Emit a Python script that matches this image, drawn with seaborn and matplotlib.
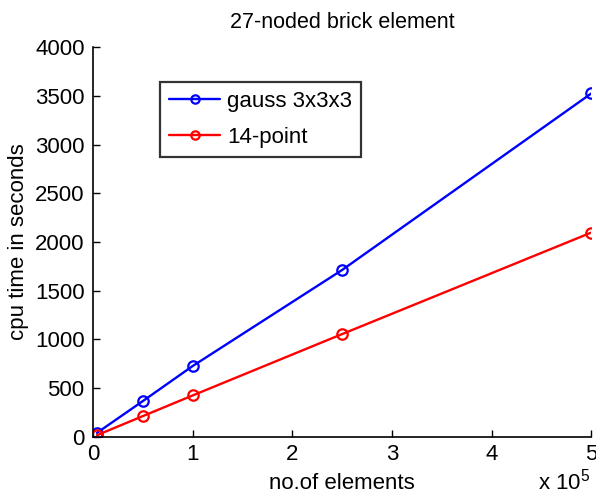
import matplotlib
matplotlib.use("Agg")
import matplotlib.pyplot as plt
import seaborn as sns
import pandas as pd
from matplotlib.ticker import FuncFormatter, MultipleLocator

sns.set_theme(style="white")
plt.rcParams['font.family'] = ['Liberation Sans', 'DejaVu Sans']
plt.rcParams['mathtext.fontset'] = 'custom'
plt.rcParams['mathtext.rm'] = 'Liberation Sans'
plt.rcParams['text.color'] = 'black'
plt.rcParams['axes.labelcolor'] = 'black'

elements = [4000, 50000, 100000, 250000, 500000]
gauss = [41, 367, 727, 1713, 3525]
fourteen = [17, 213, 425, 1055, 2097]
series_names = ["gauss 3x3x3", "14-point"]

df = pd.DataFrame({
    "elements": elements * 2,
    "time": gauss + fourteen,
    "method": [series_names[0]] * len(elements) + [series_names[1]] * len(elements),
})

fig = plt.figure(figsize=(5.96, 4.97), dpi=100)
ax = fig.add_axes([0.156, 0.121, 0.836, 0.784])

sns.lineplot(data=df, x="elements", y="time", hue="method",
             palette={series_names[0]: "#0000ff", series_names[1]: "#ff0000"},
             marker="o", markersize=7.5, markerfacecolor="none", markeredgewidth=1.6,
             linewidth=1.7, ax=ax, legend=True)
for line, c in zip(ax.lines, ["#0000ff", "#ff0000"]):
    line.set_markeredgecolor(c)
    line.set_markerfacecolor("none")

ax.set_xlim(0, 500000)
ax.set_ylim(0, 4000)
ax.xaxis.set_major_locator(MultipleLocator(100000))
ax.yaxis.set_major_locator(MultipleLocator(500))
ax.xaxis.set_major_formatter(FuncFormatter(lambda v, p: f"{v/1e5:g}"))
ax.yaxis.set_major_formatter(FuncFormatter(lambda v, p: f"{v:g}"))

for s in ["top", "right"]:
    ax.spines[s].set_visible(False)
for s in ["left", "bottom"]:
    ax.spines[s].set_color("black")
    ax.spines[s].set_linewidth(1.2)
ax.tick_params(direction="in", length=5, width=1, colors="black", labelsize=16,
               bottom=True, left=True)
ax.tick_params(axis="x", pad=5)
ax.tick_params(axis="y", pad=6)

ax.set_xlabel("no.of elements", fontsize=16, labelpad=6, color="black")
ax.set_ylabel("cpu time in seconds", fontsize=16, labelpad=4, color="black")
ax.set_title("27-noded brick element", fontsize=15.5, pad=14, color="black")
fig.text(0.99, 0.005, r"x 10$^{5}$", ha="right", va="bottom", fontsize=16, color="black")

handles, labels = ax.get_legend_handles_labels()
leg = ax.legend(handles, labels, loc="upper left", bbox_to_anchor=(0.135, 0.91),
                fontsize=16, frameon=True, fancybox=False, edgecolor="black",
                handlelength=2.3, borderpad=0.4, labelspacing=0.65, handletextpad=0.3,
                borderaxespad=0)
leg.get_frame().set_linewidth(1.6)
for t in leg.get_texts():
    t.set_color("black")
for lh, c in zip(leg.get_lines(), ["#0000ff", "#ff0000"]):
    lh.set_markerfacecolor("none")
    lh.set_markeredgecolor(c)
    lh.set_markersize(6)

fig.savefig("out.png", dpi=100)
